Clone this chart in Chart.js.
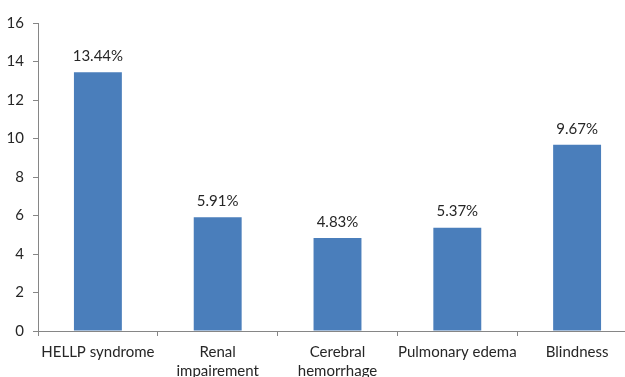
<!DOCTYPE html>
<html>
<head>
<meta charset="utf-8">
<script src="https://cdn.jsdelivr.net/npm/chart.js@4/dist/chart.umd.min.js"></script>
<style>
  html, body { margin: 0; padding: 0; background: #fff; overflow: hidden; }
  #wrap { width: 640px; height: 377px; }
</style>
</head>
<body>
<div id="wrap"><canvas id="myChart"></canvas></div>
<script>
const categories = [
  ['HELLP syndrome'],
  ['Renal', 'impairement'],
  ['Cerebral', 'hemorrhage'],
  ['Pulmonary edema'],
  ['Blindness']
];
const values = [13.44, 5.91, 4.83, 5.37, 9.67];
const yTicks = [0, 2, 4, 6, 8, 10, 12, 14, 16];

const axisColor = '#868686';
const textColor = '#262626';

// writes the percentage above each bar
const barLabels = {
  id: 'barLabels',
  afterDatasetsDraw(chart) {
    const ctx = chart.ctx;
    const meta = chart.getDatasetMeta(0);
    ctx.save();
    ctx.font = '15px Lato';
    ctx.fillStyle = textColor;
    ctx.textAlign = 'center';
    ctx.textBaseline = 'middle';
    meta.data.forEach((bar, i) => {
      ctx.fillText(values[i].toFixed(2) + '%', bar.x, bar.y - 16);
    });
    ctx.restore();
  }
};

const config = {
  type: 'bar',
  data: {
    labels: categories,
    datasets: [{
      data: values,
      backgroundColor: '#4a7ebb',
      borderWidth: 0,
      barPercentage: 0.4,
      categoryPercentage: 1
    }]
  },
  options: {
    responsive: true,
    maintainAspectRatio: false,
    animation: false,
    layout: { padding: { top: 23, right: 3, left: 0, bottom: 0 } },
    plugins: { legend: { display: false }, tooltip: { enabled: false } },
    scales: {
      x: {
        afterFit: s => { s.height = 46; },
        border: { color: axisColor, width: 1 },
        grid: { drawOnChartArea: false, drawTicks: true, tickLength: 5, color: axisColor, offset: true },
        ticks: {
          color: textColor,
          font: { family: 'Lato', size: 15, lineHeight: 1.3 },
          padding: 6,
          maxRotation: 0,
          autoSkip: false
        }
      },
      y: {
        min: 0,
        max: 16,
        afterFit: s => { s.width = 38; },
        afterBuildTicks: s => { s.ticks = yTicks.map(v => ({ value: v })); },
        border: { color: axisColor, width: 1 },
        grid: { drawOnChartArea: false, drawTicks: true, tickLength: 5, color: axisColor },
        ticks: {
          color: textColor,
          font: { family: 'Lato', size: 15 },
          padding: 9
        }
      }
    }
  },
  plugins: [barLabels]
};

const chart = new Chart(document.getElementById('myChart'), config);
</script>
</body>
</html>
